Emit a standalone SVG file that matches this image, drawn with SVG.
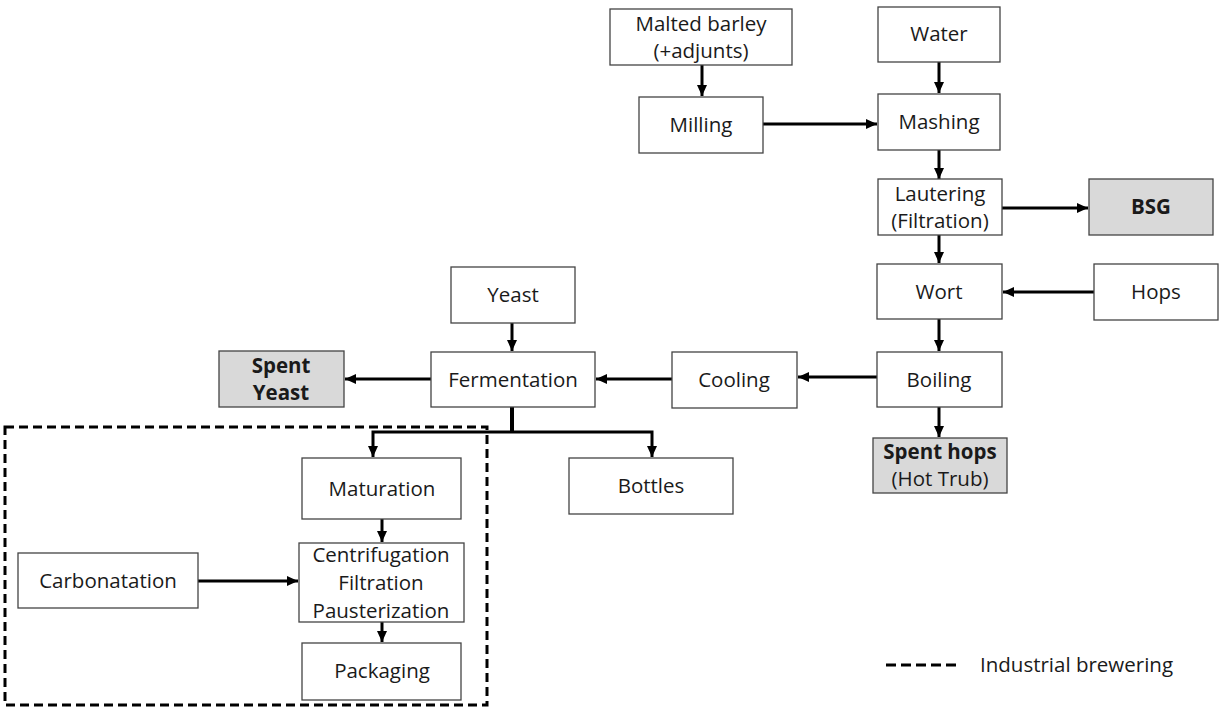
<svg xmlns="http://www.w3.org/2000/svg" width="1219" height="708" viewBox="0 0 1219 708">
<style>
.box{fill:#fff;stroke:#444;stroke-width:1.3}
.out{fill:#d9d9d9;stroke:#444;stroke-width:1.3}
text{font-family:"Open Sans","Noto Sans","Liberation Sans",sans-serif;font-size:20.5px;fill:#1a1a1a;text-anchor:middle}
.b{font-weight:bold}
.c{fill:none;stroke:#000;stroke-width:3}
</style>
<defs>
<marker id="ah" markerUnits="userSpaceOnUse" markerWidth="12" markerHeight="12" viewBox="0 0 12 12" refX="11" refY="6" orient="auto">
<path d="M0,1 L11,6 L0,11 Z" fill="#000"/>
</marker>
</defs>
<rect width="1219" height="708" fill="#fff"/>
<g id="connectors">
<path class="c" d="M702,65 V96" marker-end="url(#ah)"/>
<path class="c" d="M939,62 V93" marker-end="url(#ah)"/>
<path class="c" d="M763,124 H877" marker-end="url(#ah)"/>
<path class="c" d="M939,150 V179" marker-end="url(#ah)"/>
<path class="c" d="M1002,208 H1088" marker-end="url(#ah)"/>
<path class="c" d="M939,235 V263" marker-end="url(#ah)"/>
<path class="c" d="M1094,292 H1003" marker-end="url(#ah)"/>
<path class="c" d="M939,319 V351" marker-end="url(#ah)"/>
<path class="c" d="M939,407 V437" marker-end="url(#ah)"/>
<path class="c" d="M877,377 H798" marker-end="url(#ah)"/>
<path class="c" d="M672,379 H596" marker-end="url(#ah)"/>
<path class="c" d="M512,323 V351" marker-end="url(#ah)"/>
<path class="c" d="M431,379 H345" marker-end="url(#ah)"/>
<path class="c" d="M512,407 V432" style="stroke-width:4"/>
<path class="c" d="M512,432 H373 V457" marker-end="url(#ah)"/>
<path class="c" d="M512,432 H652 V457" marker-end="url(#ah)"/>
<path class="c" d="M382,519 V542" marker-end="url(#ah)"/>
<path class="c" d="M198,581 H298" marker-end="url(#ah)"/>
<path class="c" d="M382,620 V642" marker-end="url(#ah)"/>
</g>
<g id="industrial-brewering">
<rect x="5" y="427" width="482" height="278" fill="none" stroke="#000" stroke-width="3" stroke-dasharray="9,5"/>
</g>
<g id="malted-barley"><rect class="box" x="610" y="9" width="182" height="56"/><text x="701" y="31">Malted barley</text><text x="701" y="58">(+adjunts)</text></g>
<g id="water"><rect class="box" x="878" y="7" width="122" height="55"/><text x="939" y="41">Water</text></g>
<g id="milling"><rect class="box" x="639" y="97" width="124" height="56"/><text x="701" y="132">Milling</text></g>
<g id="mashing"><rect class="box" x="878" y="94" width="122" height="56"/><text x="939" y="129">Mashing</text></g>
<g id="lautering"><rect class="box" x="878" y="179" width="124" height="56"/><text x="940" y="201">Lautering</text><text x="940" y="228">(Filtration)</text></g>
<g id="bsg"><rect class="out" x="1089" y="179" width="124" height="56"/><text class="b" x="1151" y="214">BSG</text></g>
<g id="wort"><rect class="box" x="877" y="264" width="125" height="55"/><text x="939" y="299">Wort</text></g>
<g id="hops"><rect class="box" x="1094" y="264" width="124" height="56"/><text x="1156" y="299">Hops</text></g>
<g id="boiling"><rect class="box" x="877" y="352" width="125" height="55"/><text x="939" y="387">Boiling</text></g>
<g id="spent-hops"><rect class="out" x="873" y="438" width="134" height="55"/><text class="b" x="940" y="459">Spent hops</text><text x="940" y="486">(Hot Trub)</text></g>
<g id="cooling"><rect class="box" x="672" y="352" width="125" height="56"/><text x="734" y="387">Cooling</text></g>
<g id="yeast"><rect class="box" x="451" y="267" width="124" height="56"/><text x="513" y="302">Yeast</text></g>
<g id="fermentation"><rect class="box" x="431" y="352" width="164" height="55"/><text x="513" y="387">Fermentation</text></g>
<g id="spent-yeast"><rect class="out" x="219" y="351" width="125" height="56"/><text class="b" x="281" y="373">Spent</text><text class="b" x="281" y="400">Yeast</text></g>
<g id="bottles"><rect class="box" x="569" y="458" width="164" height="56"/><text x="651" y="493">Bottles</text></g>
<g id="maturation"><rect class="box" x="302" y="458" width="159" height="61"/><text x="382" y="496">Maturation</text></g>
<g id="centrifugation"><rect class="box" x="299" y="543" width="165" height="79"/><text x="381" y="562">Centrifugation</text><text x="381" y="590">Filtration</text><text x="381" y="618">Pausterization</text></g>
<g id="carbonatation"><rect class="box" x="18" y="553" width="180" height="55"/><text x="108" y="588">Carbonatation</text></g>
<g id="packaging"><rect class="box" x="302" y="643" width="159" height="57"/><text x="382" y="678">Packaging</text></g>
<g id="legend">
<line x1="886" y1="665" x2="960" y2="665" stroke="#000" stroke-width="3" stroke-dasharray="10,5"/>
<text x="980" y="672" style="text-anchor:start">Industrial brewering</text>
</g>
</svg>
